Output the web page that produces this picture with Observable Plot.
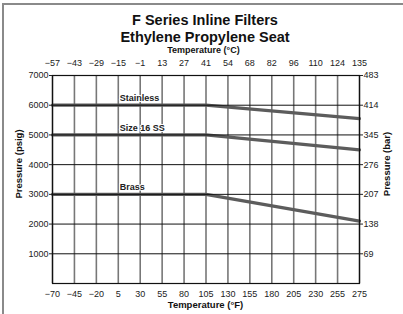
<!DOCTYPE html>
<html>
<head>
<meta charset="utf-8">
<script src="https://cdn.jsdelivr.net/npm/d3@7"></script>
<script src="https://cdn.jsdelivr.net/npm/@observablehq/plot@0.6"></script>
<style>
  body { margin:0; width:403px; height:314px; position:relative; overflow:hidden; background:#fff;
         font-family:"Liberation Sans", Arial, Helvetica, sans-serif; color:#111; }
  #border { position:absolute; left:2px; top:3px; width:420px; height:330px;
            border-left:2px solid #8a8a8a; border-top:2px solid #8a8a8a; }
  .title { position:absolute; left:0; width:410px; text-align:center; font-weight:bold;
           font-size:14.5px; line-height:16.2px; }
  .atitle { position:absolute; font-weight:bold; font-size:9.5px; line-height:10.6px; white-space:nowrap; }
  #chart { position:absolute; left:0; top:46px; }
</style>
</head>
<body>
<div id="border"></div>
<div class="title" style="top:12.3px;">F Series Inline Filters</div>
<div class="title" style="top:28.7px;">Ethylene Propylene Seat</div>
<div class="atitle" id="tC" style="left:0; width:407px; text-align:center; top:45.2px; font-size:9px; line-height:10px;">Temperature (°C)</div>
<div class="atitle" id="tF" style="left:0; width:411px; text-align:center; top:299.5px;">Temperature (°F)</div>
<div class="atitle" id="pL" style="left:19px; top:164px; transform:translate(-50%,-50%) rotate(-90deg);">Pressure (psig)</div>
<div class="atitle" id="pR" style="left:387px; top:164px; transform:translate(-50%,-50%) rotate(-90deg);">Pressure (bar)</div>
<div id="chart"></div>
<script>
// Tick labels
const fLabels = [-70, -45, -20, 5, 30, 55, 80, 105, 130, 155, 180, 205, 230, 255, 275];
const cLabels = [-57, -43, -29, -15, -1, 13, 27, 41, 54, 68, 82, 96, 110, 124, 135];
const psiTicks = [1000, 2000, 3000, 4000, 5000, 6000, 7000];
const barLabels = [69, 138, 207, 276, 345, 414, 483];

// Series (temperature °F, pressure psig)
const seriesNames = ["Stainless", "Size 16 SS", "Brass"];
const tempF = [-70, 105, 275];
const stainless = [6000, 6000, 5550];
const size16 = [5000, 5000, 4500];
const brass = [3000, 3000, 2100];
const labelTempF = 5;

const seriesValues = [stainless, size16, brass];
const rows = [];
seriesNames.forEach((name, s) => tempF.forEach((f, i) => rows.push({series: name, f, p: seriesValues[s][i]})));
const labels = seriesNames.map((name, s) => ({series: name, f: labelTempF, p: seriesValues[s][0]}));

// tick labels are evenly spaced on the chart: map °F to tick index
const idx = d3.range(fLabels.length);
const fToIdx = d3.scaleLinear().domain(fLabels).range(idx);

const minus = s => String(s).replace("-", "\u2212");

const chart = Plot.plot({
  width: 403,
  height: 268,
  marginTop: 29,
  marginBottom: 31,
  marginLeft: 52,
  marginRight: 44,
  style: {fontFamily: '"Liberation Sans", Arial, sans-serif', fontSize: "9px", color: "#222", background: "transparent"},
  x: {domain: [0, fLabels.length - 1]},
  y: {domain: [0, 7000]},
  marks: [
    Plot.ruleX(idx, {stroke: "#777", strokeWidth: 1.6}),
    Plot.line(rows, {x: d => fToIdx(d.f), y: "p", z: "series", stroke: "#5c5c5c", strokeWidth: 3.2}),
    Plot.ruleY(psiTicks.slice(0, -1), {stroke: "#111", strokeWidth: 1}),
    Plot.frame({stroke: "#111", strokeWidth: 1.2}),
    Plot.text(labels, {x: d => fToIdx(d.f), y: "p", text: "series", textAnchor: "start", lineAnchor: "bottom",
      dx: 1.5, dy: -4, fontWeight: "bold", fontSize: 9, fill: "#222", stroke: "white", strokeWidth: 2}),
    Plot.axisX({anchor: "bottom", ticks: idx, tickFormat: i => minus(fLabels[i]), tickSize: 0, tickPadding: 7, label: null}),
    Plot.axisX({anchor: "top", ticks: idx, tickFormat: i => minus(cLabels[i]), tickSize: 0, tickPadding: 10, label: null}),
    Plot.axisY({anchor: "left", ticks: psiTicks, tickFormat: d => String(d), tickSize: 3, tickPadding: 1, label: null}),
    Plot.axisY({anchor: "right", ticks: psiTicks, tickFormat: (d, i) => String(barLabels[psiTicks.indexOf(d)]), tickSize: 3, tickPadding: 1, label: null})
  ]
});
document.getElementById("chart").appendChild(chart);
</script>
</body>
</html>
